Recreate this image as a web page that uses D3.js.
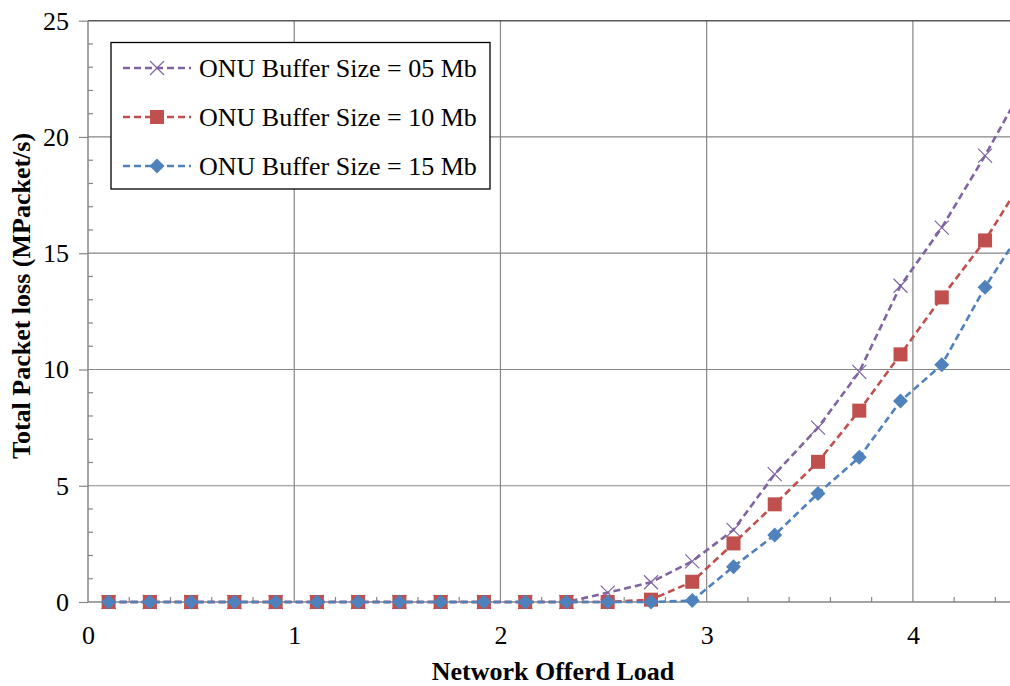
<!DOCTYPE html>
<html>
<head>
<meta charset="utf-8">
<script src="https://cdn.jsdelivr.net/npm/d3@7"></script>
<style>
  html, body { margin: 0; padding: 0; background: #fff; }
  svg text { font-family: "Liberation Serif", "Times New Roman", serif !important; }
</style>
</head>
<body>
<svg id="chart" width="1010" height="686"></svg>
<script>
/* packet loss vs offered load — three ONU buffer sizes */

// Offered load at each sample (x)
const LOADS = [0.10, 0.30, 0.50, 0.71, 0.91, 1.11, 1.31, 1.51, 1.71, 1.92, 2.12, 2.32,
               2.52, 2.73, 2.93, 3.13, 3.33, 3.54, 3.74, 3.94, 4.14, 4.35, 4.55];

// Total packet loss (MPacket/s) per buffer size
const LOSS_05 = [0, 0, 0, 0, 0, 0, 0, 0, 0, 0, 0, 0,
                 0.4, 0.85, 1.75, 3.1, 5.5, 7.5, 9.9, 13.6, 16.1, 19.2, 22.4];
const LOSS_10 = [0, 0, 0, 0, 0, 0, 0, 0, 0, 0, 0, 0,
                 0, 0.1, 0.87, 2.52, 4.2, 6.03, 8.23, 10.65, 13.1, 15.55, 18.4];
const LOSS_15 = [0, 0, 0, 0, 0, 0, 0, 0, 0, 0, 0, 0,
                 0, 0, 0.06, 1.52, 2.88, 4.67, 6.22, 8.64, 10.2, 13.54, 16.3];

const SERIES_NAMES = ["ONU Buffer Size = 05 Mb", "ONU Buffer Size = 10 Mb", "ONU Buffer Size = 15 Mb"];
const X_TICKS = [0, 1, 2, 3, 4];
const Y_TICKS = [0, 5, 10, 15, 20, 25];

const series = [
  { name: SERIES_NAMES[0], values: LOSS_05, color: "#8064A2", marker: "x" },
  { name: SERIES_NAMES[1], values: LOSS_10, color: "#C0504D", marker: "square" },
  { name: SERIES_NAMES[2], values: LOSS_15, color: "#4F81BD", marker: "diamond" }
];

const svg = d3.select("#chart");
const M = { left: 88, top: 20.7, right: 1016, bottom: 602 };

const x = d3.scaleLinear().domain([0, 4.5]).range([M.left, M.right]);
const y = d3.scaleLinear().domain([0, 25]).range([M.bottom, M.top]);

const GRID = "#868686";
const FONT = "Liberation Serif";

// ── Gridlines ──
svg.append("g")
  .selectAll("line")
  .data(X_TICKS.slice(1))
  .join("line")
    .attr("x1", d => x(d)).attr("x2", d => x(d))
    .attr("y1", M.top).attr("y2", M.bottom)
    .attr("stroke", GRID).attr("stroke-width", 1.2);

svg.append("g")
  .selectAll("line")
  .data(Y_TICKS.slice(1, -1))
  .join("line")
    .attr("x1", M.left).attr("x2", M.right)
    .attr("y1", d => y(d)).attr("y2", d => y(d))
    .attr("stroke", GRID).attr("stroke-width", 1.2);

// top border of plot area
svg.append("line")
  .attr("x1", M.left).attr("x2", M.right)
  .attr("y1", M.top).attr("y2", M.top)
  .attr("stroke", "#595959").attr("stroke-width", 1.5);

// ── Axes ──
const xAxis = svg.append("g")
  .attr("transform", `translate(0,${M.bottom})`)
  .call(d3.axisBottom(x).tickValues(X_TICKS).tickSize(0).tickPadding(24).tickFormat(d3.format("d")));
const yAxis = svg.append("g")
  .attr("transform", `translate(${M.left},0)`)
  .call(d3.axisLeft(y).tickValues(Y_TICKS).tickSize(9).tickPadding(10).tickFormat(d3.format("d")));

[xAxis, yAxis].forEach(g => {
  g.attr("font-family", FONT).attr("font-size", 26);
  g.select(".domain").attr("stroke", GRID).attr("stroke-width", 1.5);
  g.selectAll(".tick line").attr("stroke", GRID).attr("stroke-width", 1.2);
  g.selectAll(".tick text").attr("fill", "#000");
});
xAxis.select(".domain").attr("d", `M${M.left},0H${M.right}`);
yAxis.select(".domain").attr("d", `M0,${M.top}V${M.bottom}`);

// minor ticks (inside the plot)
svg.append("g")
  .selectAll("line")
  .data(d3.range(0, 4.6, 0.2).filter(v => Math.abs(v - Math.round(v)) > 0.01))
  .join("line")
    .attr("x1", d => x(d)).attr("x2", d => x(d))
    .attr("y1", M.bottom).attr("y2", M.bottom - 5)
    .attr("stroke", GRID).attr("stroke-width", 1.2);

svg.append("g")
  .selectAll("line")
  .data(d3.range(1, 25).filter(v => v % 5 !== 0))
  .join("line")
    .attr("x1", M.left).attr("x2", M.left + 5)
    .attr("y1", d => y(d)).attr("y2", d => y(d))
    .attr("stroke", GRID).attr("stroke-width", 1.2);

// ── Axis titles ──
svg.append("text")
  .attr("x", 553).attr("y", 680)
  .attr("text-anchor", "middle")
  .attr("font-family", FONT).attr("font-size", 26).attr("font-weight", "bold")
  .text("Network Offerd Load");

svg.append("text")
  .attr("transform", "translate(30,296) rotate(-90)")
  .attr("text-anchor", "middle")
  .attr("font-family", FONT).attr("font-size", 26).attr("font-weight", "bold")
  .text("Total Packet loss (MPacket/s)");

// ── Markers ──
function drawMarker(g, kind, color) {
  if (kind === "x") {
    g.append("path")
      .attr("d", "M-7,-7L7,7M-7,7L7,-7")
      .attr("stroke", color).attr("stroke-width", 1.2).attr("fill", "none");
  } else if (kind === "square") {
    g.append("rect")
      .attr("x", -7).attr("y", -7).attr("width", 14).attr("height", 14)
      .attr("fill", color);
  } else {
    g.append("path")
      .attr("d", "M0,-7.5L7.5,0L0,7.5L-7.5,0Z")
      .attr("fill", color);
  }
}

// ── Series ──
svg.append("defs").append("clipPath").attr("id", "plot-clip")
  .append("rect")
    .attr("x", M.left - 20).attr("y", M.top)
    .attr("width", 1010 - M.left + 20).attr("height", M.bottom - M.top + 20);

const plot = svg.append("g").attr("clip-path", "url(#plot-clip)");
const line = d3.line().x((d, i) => x(LOADS[i])).y(d => y(d));

series.forEach(s => {
  const g = plot.append("g");
  g.append("path")
    .attr("d", line(s.values))
    .attr("fill", "none")
    .attr("stroke", s.color)
    .attr("stroke-width", 2.6)
    .attr("stroke-dasharray", "7,4");

  g.selectAll("g.pt")
    .data(s.values)
    .join("g")
      .attr("class", "pt")
      .attr("transform", (d, i) => `translate(${x(LOADS[i])},${y(d)})`)
      .each(function () { drawMarker(d3.select(this), s.marker, s.color); });
});

// ── Legend ──
const legend = svg.append("g");
legend.append("rect")
  .attr("x", 111).attr("y", 42.5).attr("width", 379).attr("height", 146.5)
  .attr("fill", "#fff").attr("stroke", "#000").attr("stroke-width", 1.3);

series.forEach((s, i) => {
  const ly = 68 + i * 49;
  const row = legend.append("g");
  row.append("line")
    .attr("x1", 123).attr("x2", 191).attr("y1", ly).attr("y2", ly)
    .attr("stroke", s.color).attr("stroke-width", 2.6).attr("stroke-dasharray", "7,4");
  drawMarker(row.append("g").attr("transform", `translate(157,${ly})`), s.marker, s.color);
  row.append("text")
    .attr("x", 199).attr("y", ly + 9)
    .attr("font-family", FONT).attr("font-size", 26)
    .text(s.name);
});
</script>
</body>
</html>
